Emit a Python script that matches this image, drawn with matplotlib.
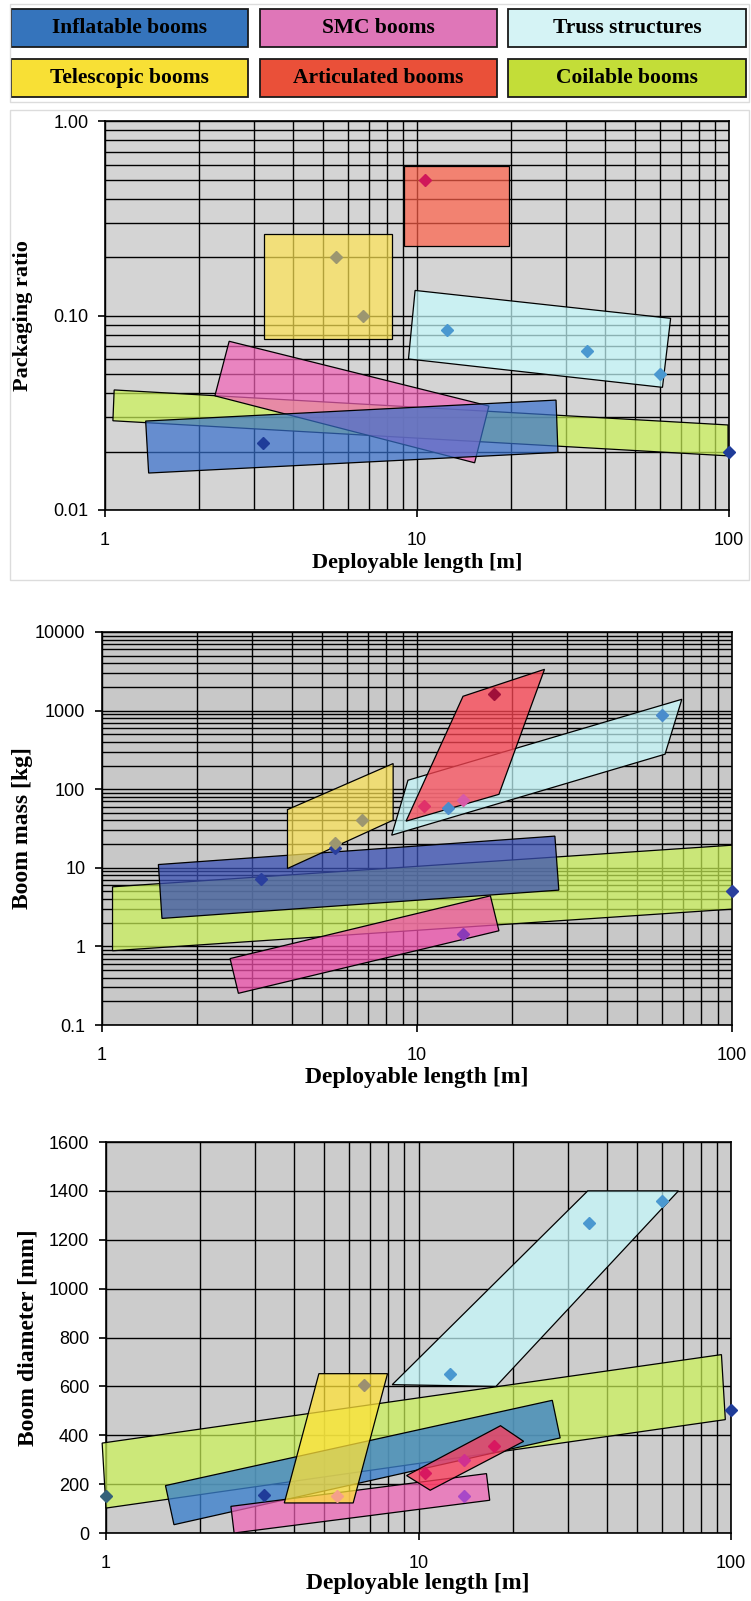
import numpy as np
import matplotlib
matplotlib.use('Agg')
import matplotlib.pyplot as plt
import matplotlib.ticker as mticker
from matplotlib.colors import to_rgba
from matplotlib.patches import Polygon, Rectangle

W, H = 751, 1601

# =============================================================================
# DATA
# =============================================================================
CATEGORIES = ['Inflatable booms', 'SMC booms', 'Truss structures',
              'Telescopic booms', 'Articulated booms', 'Coilable booms']

# --- Packaging ratio vs deployable length: envelope corners (m, ratio)
PACK_COILABLE = [(1.07, 0.0415), (99.3, 0.0274), (99.3, 0.0190), (1.06, 0.0288)]
PACK_SMC = [(2.50, 0.0739), (17.0, 0.0343), (15.3, 0.0175), (2.25, 0.0387)]
PACK_INFLATABLE = [(1.35, 0.0287), (27.9, 0.0368), (28.3, 0.0198), (1.38, 0.0155)]
PACK_TELESCOPIC = [(3.23, 0.262), (8.29, 0.262), (8.29, 0.076), (3.23, 0.076)]
PACK_ARTICULATED = [(9.1, 0.59), (19.7, 0.59), (19.7, 0.229), (9.1, 0.229)]
PACK_TRUSS = [(9.86, 0.135), (65.0, 0.097), (61.2, 0.0428), (9.39, 0.0599)]

PACK_PTS_INFLATABLE = [(3.2, 0.022), (100, 0.020)]
PACK_PTS_TELESCOPIC = [(5.5, 0.20), (6.7, 0.10)]
PACK_PTS_ARTICULATED = [(10.6, 0.50)]
PACK_PTS_TRUSS = [(12.5, 0.084), (35, 0.066), (60, 0.050)]

# --- Boom mass vs deployable length (m, kg)
MASS_COILABLE = [(1.08, 5.73), (100, 19.4), (100, 2.98), (1.08, 0.88)]
MASS_INFLATABLE = [(1.51, 11.0), (27.4, 25.3), (28.2, 5.2), (1.55, 2.27)]
MASS_SMC = [(2.55, 0.70), (17.1, 4.4), (18.2, 1.58), (2.71, 0.253)]
MASS_TELESCOPIC = [(3.88, 55), (8.4, 212), (8.4, 40.4), (3.88, 9.8)]
MASS_TRUSS = [(9.36, 130), (69.3, 1393), (61.3, 279), (8.31, 26)]
MASS_ARTICULATED = [(14.0, 1521), (25.4, 3352), (18.2, 86), (9.23, 39.2)]

MASS_PTS_INFLATABLE = [(3.2, 7.1), (5.5, 18), (100, 5.0)]
MASS_PTS_TELESCOPIC = [(5.5, 20.4), (6.7, 41)]
MASS_PTS_ARTICULATED = [(10.5, 61), (17.5, 1645)]
MASS_PTS_TRUSS = [(12.5, 58), (60, 873)]
MASS_PTS_SMC = [(14, 73), (14, 1.43)]

# --- Boom diameter vs deployable length (m, mm)
DIAM_COILABLE = [(0.972, 368), (93.2, 730), (95.9, 464), (1.0, 102)]
DIAM_INFLATABLE = [(1.55, 194), (26.8, 543), (28.4, 389), (1.65, 34)]
DIAM_SMC = [(2.51, 109), (16.5, 243), (16.9, 134), (2.57, 0)]
DIAM_TELESCOPIC = [(4.80, 652), (7.96, 652), (6.18, 123), (3.72, 123)]
DIAM_TRUSS = [(8.24, 607), (34.8, 1400), (67.9, 1400), (17.7, 600)]
DIAM_ARTICULATED = [(9.16, 235), (18.3, 439), (21.7, 375), (10.9, 175)]

DIAM_PTS_INFLATABLE = [(3.2, 157), (100, 502)]
DIAM_PTS_COILABLE = [(1.0, 150)]
DIAM_PTS_TELESCOPIC = [(6.7, 607)]
DIAM_PTS_TELESCOPIC_LOW = [(5.5, 150)]
DIAM_PTS_ARTICULATED = [(10.5, 245), (17.5, 355)]
DIAM_PTS_SMC = [(14, 300)]
DIAM_PTS_SMC_LOW = [(14, 150)]
DIAM_PTS_TRUSS = [(12.6, 652), (35, 1269), (60, 1357)]

# =============================================================================
# STYLE
# =============================================================================
LEGEND_COLORS = ['#3574bc', '#df76b8', '#d5f3f5', '#f8e035', '#ea5039', '#c3dd38']
FILL = {
    'inflatable': '#3770cd',
    'smc': '#f362b8',
    'truss': '#c6fcff',
    'telescopic': '#ffe554',
    'articulated': '#ff5f48',
    'coilable': '#ccf456',
}
SERIF = {'family': 'Liberation Serif', 'weight': 'bold'}
plt.rcParams['font.family'] = 'Liberation Sans'


def fig_box(fig, left, top, right, bottom):
    """Axes from pixel edges."""
    return fig.add_axes([left / W, 1 - bottom / H, (right - left) / W, (bottom - top) / H])


def envelope(ax, verts, key, alpha=0.7, clip=True, color=None):
    face = color or FILL[key]
    ax.add_patch(Polygon(verts, closed=True, facecolor=to_rgba(face, alpha),
                         edgecolor='black', lw=0.9, zorder=3, clip_on=clip))


def points(ax, pts, color):
    xs, ys = zip(*pts)
    ax.plot(xs, ys, 'D', color=color, mec=color, ms=6.5, zorder=6, clip_on=False)


def style_axes(ax, bg):
    ax.set_facecolor(bg)
    ax.set_xscale('log')
    ax.set_xlim(1, 100)
    ax.xaxis.set_major_locator(mticker.FixedLocator([1, 10, 100]))
    ax.xaxis.set_major_formatter(mticker.FixedFormatter(['1', '10', '100']))
    ax.xaxis.set_minor_locator(mticker.LogLocator(base=10, subs=np.arange(2, 10)))
    ax.xaxis.set_minor_formatter(mticker.NullFormatter())
    ax.grid(True, which='both', color='black', lw=1.0, zorder=1)
    ax.tick_params(which='major', direction='out', length=5, width=1.2, labelsize=13)
    ax.tick_params(axis='x', which='major', pad=11)
    ax.tick_params(axis='y', which='major', pad=7)
    ax.tick_params(which='minor', length=0)
    for s in ax.spines.values():
        s.set_color('black')
        s.set_linewidth(1.2)


fig = plt.figure(figsize=(W / 100, H / 100), dpi=100)

# legend boxes
box_cols = [(10.5, 248), (259.5, 497), (508.5, 746)]
box_rows = [(9, 47), (59, 97)]
for i, name in enumerate(CATEGORIES):
    l, r = box_cols[i % 3]
    t, b = box_rows[i // 3]
    fig.patches.append(Rectangle((l / W, 1 - b / H), (r - l) / W, (b - t) / H,
                                 transform=fig.transFigure, facecolor=LEGEND_COLORS[i],
                                 edgecolor='#1a1a1a', lw=1.3))
    fig.text((l + r) / 2 / W, 1 - (t + b) / 2 / H, name, ha='center', va='center',
             fontsize=15.5, **SERIF)

# light frames round the legend and the first panel
for t, b in [(4, 102), (110, 580)]:
    fig.patches.append(Rectangle((10 / W, 1 - b / H), 739 / W, (b - t) / H,
                                 transform=fig.transFigure, fill=False,
                                 edgecolor='#dcdcdc', lw=1.0))

# ---------------------------------------------------------------- packaging ratio
ax1 = fig_box(fig, 105, 121.5, 729, 510)
style_axes(ax1, '#d4d4d4')
ax1.set_yscale('log')
ax1.set_ylim(0.01, 1)
ax1.yaxis.set_major_locator(mticker.FixedLocator([0.01, 0.1, 1]))
ax1.yaxis.set_major_formatter(mticker.FixedFormatter(['0.01', '0.10', '1.00']))
ax1.yaxis.set_minor_locator(mticker.LogLocator(base=10, subs=np.arange(2, 10)))
ax1.yaxis.set_minor_formatter(mticker.NullFormatter())

envelope(ax1, PACK_COILABLE, 'coilable')
envelope(ax1, PACK_SMC, 'smc')
envelope(ax1, PACK_INFLATABLE, 'inflatable')
envelope(ax1, PACK_TELESCOPIC, 'telescopic')
envelope(ax1, PACK_ARTICULATED, 'articulated')
envelope(ax1, PACK_TRUSS, 'truss')
points(ax1, PACK_PTS_INFLATABLE, '#1f3c99')
points(ax1, PACK_PTS_TELESCOPIC, '#9c9670')
points(ax1, PACK_PTS_ARTICULATED, '#d0185a')
points(ax1, PACK_PTS_TRUSS, '#4a98d0')

fig.text(23 / W, 1 - 316 / H, 'Packaging ratio', rotation=90, ha='center', va='center',
         fontsize=16, **SERIF)
fig.text(417 / W, 1 - 563 / H, 'Deployable length [m]', ha='center', va='center',
         fontsize=16, **SERIF)

# ---------------------------------------------------------------- boom mass
ax2 = fig_box(fig, 102, 632, 732, 1025)
style_axes(ax2, '#c8c8c8')
ax2.set_yscale('log')
ax2.set_ylim(0.1, 10000)
mass_ticks = [0.1, 1, 10, 100, 1000, 10000]
ax2.yaxis.set_major_locator(mticker.FixedLocator(mass_ticks))
ax2.yaxis.set_major_formatter(mticker.FixedFormatter(['0.1', '1', '10', '100', '1000', '10000']))
ax2.yaxis.set_minor_locator(mticker.LogLocator(base=10, subs=np.arange(2, 10), numticks=20))
ax2.yaxis.set_minor_formatter(mticker.NullFormatter())

envelope(ax2, MASS_COILABLE, 'coilable')
envelope(ax2, MASS_INFLATABLE, 'inflatable', alpha=0.75, color='#3a50b4')
envelope(ax2, MASS_SMC, 'smc', alpha=0.75, color='#f050ac')
envelope(ax2, MASS_TELESCOPIC, 'telescopic')
envelope(ax2, MASS_TRUSS, 'truss')
envelope(ax2, MASS_ARTICULATED, 'articulated', alpha=0.75, color='#ff4654')
points(ax2, MASS_PTS_INFLATABLE, '#2a3f9e')
points(ax2, MASS_PTS_TELESCOPIC, '#9c9670')
points(ax2, MASS_PTS_ARTICULATED[:1], '#e0306a')
points(ax2, MASS_PTS_ARTICULATED[1:], '#a0103a')
points(ax2, MASS_PTS_TRUSS, '#4a8ccc')
points(ax2, MASS_PTS_SMC[:1], '#d85aa8')
points(ax2, MASS_PTS_SMC[1:], '#8a3ab8')

fig.text(23 / W, 1 - 828 / H, 'Boom mass [kg]', rotation=90, ha='center', va='center',
         fontsize=17, **SERIF)
fig.text(417 / W, 1 - 1077 / H, 'Deployable length [m]', ha='center', va='center',
         fontsize=17, **SERIF)

# ---------------------------------------------------------------- boom diameter
ax3 = fig_box(fig, 106, 1142, 731, 1533)
style_axes(ax3, '#cccccc')
ax3.set_ylim(0, 1600)
ax3.yaxis.set_major_locator(mticker.MultipleLocator(200))
ax3.yaxis.set_minor_locator(mticker.NullLocator())

envelope(ax3, DIAM_COILABLE, 'coilable', clip=False)
envelope(ax3, DIAM_INFLATABLE, 'inflatable', alpha=0.78, color='#3a80cc')
envelope(ax3, DIAM_SMC, 'smc')
envelope(ax3, DIAM_TELESCOPIC, 'telescopic', alpha=0.75, color='#ffe238')
envelope(ax3, DIAM_TRUSS, 'truss')
envelope(ax3, DIAM_ARTICULATED, 'articulated', alpha=0.75, color='#ff3a5a')
points(ax3, DIAM_PTS_INFLATABLE, '#1f3c99')
points(ax3, DIAM_PTS_COILABLE, '#35617a')
points(ax3, DIAM_PTS_TELESCOPIC, '#9c9070')
points(ax3, DIAM_PTS_TELESCOPIC_LOW, '#f4a08a')
points(ax3, DIAM_PTS_ARTICULATED, '#d81860')
points(ax3, DIAM_PTS_SMC, '#d03090')
points(ax3, DIAM_PTS_SMC_LOW, '#a848c8')
points(ax3, DIAM_PTS_TRUSS, '#4a98d0')

fig.text(28 / W, 1 - 1338 / H, 'Boom diameter [mm]', rotation=90, ha='center', va='center',
         fontsize=17, **SERIF)
fig.text(418 / W, 1 - 1583 / H, 'Deployable length [m]', ha='center', va='center',
         fontsize=17, **SERIF)

fig.savefig('out.png', dpi=100)
